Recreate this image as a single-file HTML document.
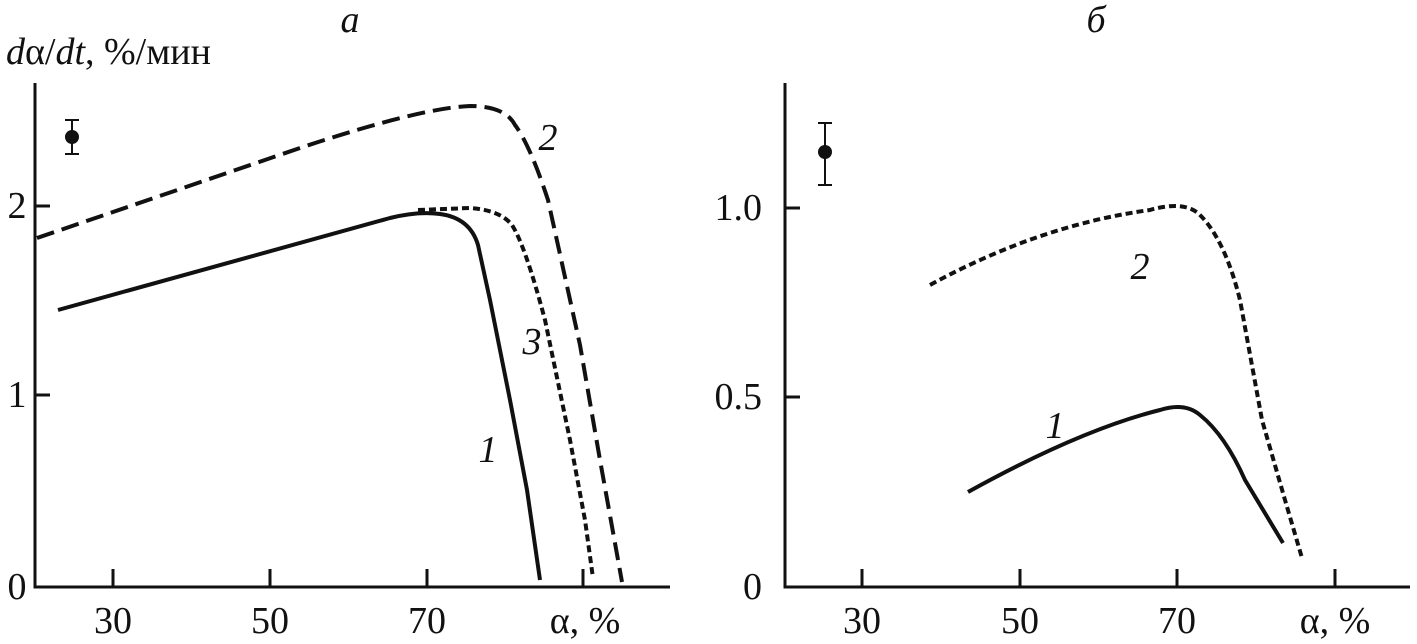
<!DOCTYPE html>
<html><head><meta charset="utf-8"><style>
html,body{margin:0;padding:0;background:#fff;}
svg{display:block;font-family:"Liberation Serif","DejaVu Serif",serif;}
</style></head><body>
<svg width="1417" height="644" viewBox="0 0 1417 644" xmlns="http://www.w3.org/2000/svg">
<g stroke="#111" stroke-width="3" fill="none">
<path d="M35,83 V587 H670"/>
<path d="M35,206 H50 M35,395 H50 M113,587 V569 M270,587 V569 M427,587 V569 M583,587 V569"/>
<path d="M785,83 V587 H1410"/>
<path d="M785,208 H800 M785,397 H800 M862,587 V569 M1020,587 V569 M1177,587 V569 M1335,587 V569"/>
<path d="M72,120 V154 M65,120 H79 M65,154 H79" stroke-width="2"/>
<path d="M825,123 V185 M818,123 H832 M818,185 H832" stroke-width="2"/>
</g>
<circle cx="72" cy="137" r="7" fill="#111"/>
<circle cx="825" cy="152" r="7" fill="#111"/>
<g fill="none" stroke="#111" stroke-width="4">
<path d="M37,238 L300,148 Q420,108 470,106 Q505,106 515,125 Q530,145 548,200 L580,345 L600,460 L622,582" stroke-dasharray="18,8"/>
<path d="M418,210 L470,208 Q500,210 512,225 Q525,245 545,320 L570,440 L585,520 L593,578" stroke-dasharray="7,4"/>
<path d="M58,310 L390,218 Q418,211 440,214 Q470,218 478,245 L490,300 L510,400 L527,490 L540,580"/>
<path d="M930,285 Q1040,225 1150,210 Q1185,200 1200,215 Q1225,240 1240,300 L1262,420 L1285,500 L1302,558" stroke-dasharray="7,4"/>
<path d="M968,492 Q1080,430 1160,410 Q1185,402 1200,415 Q1225,435 1245,480 L1283,543"/>
</g>
<g font-size="38" fill="#111">
<text x="17" y="218" text-anchor="middle">2</text>
<text x="17" y="407" text-anchor="middle">1</text>
<text x="17" y="599" text-anchor="middle">0</text>
<text x="113" y="633" text-anchor="middle">30</text>
<text x="270" y="633" text-anchor="middle">50</text>
<text x="427" y="633" text-anchor="middle">70</text>
<text x="585" y="633" text-anchor="middle">α, %</text>
<text x="762" y="220" text-anchor="end">1.0</text>
<text x="762" y="409" text-anchor="end">0.5</text>
<text x="762" y="599" text-anchor="end">0</text>
<text x="862" y="633" text-anchor="middle">30</text>
<text x="1020" y="633" text-anchor="middle">50</text>
<text x="1177" y="633" text-anchor="middle">70</text>
<text x="1335" y="633" text-anchor="middle">α, %</text>
<text x="6" y="64"><tspan font-style="italic">d</tspan>α/<tspan font-style="italic">dt</tspan>, %/мин</text>
<g font-style="italic">
<text x="350" y="32" text-anchor="middle">a</text>
<text x="1096" y="32" text-anchor="middle">б</text>
<text x="548" y="150" text-anchor="middle">2</text>
<text x="532" y="354" text-anchor="middle">3</text>
<text x="488" y="462" text-anchor="middle">1</text>
<text x="1140" y="279" text-anchor="middle">2</text>
<text x="1055" y="438" text-anchor="middle">1</text>
</g>
</g>
</svg>
</body></html>
